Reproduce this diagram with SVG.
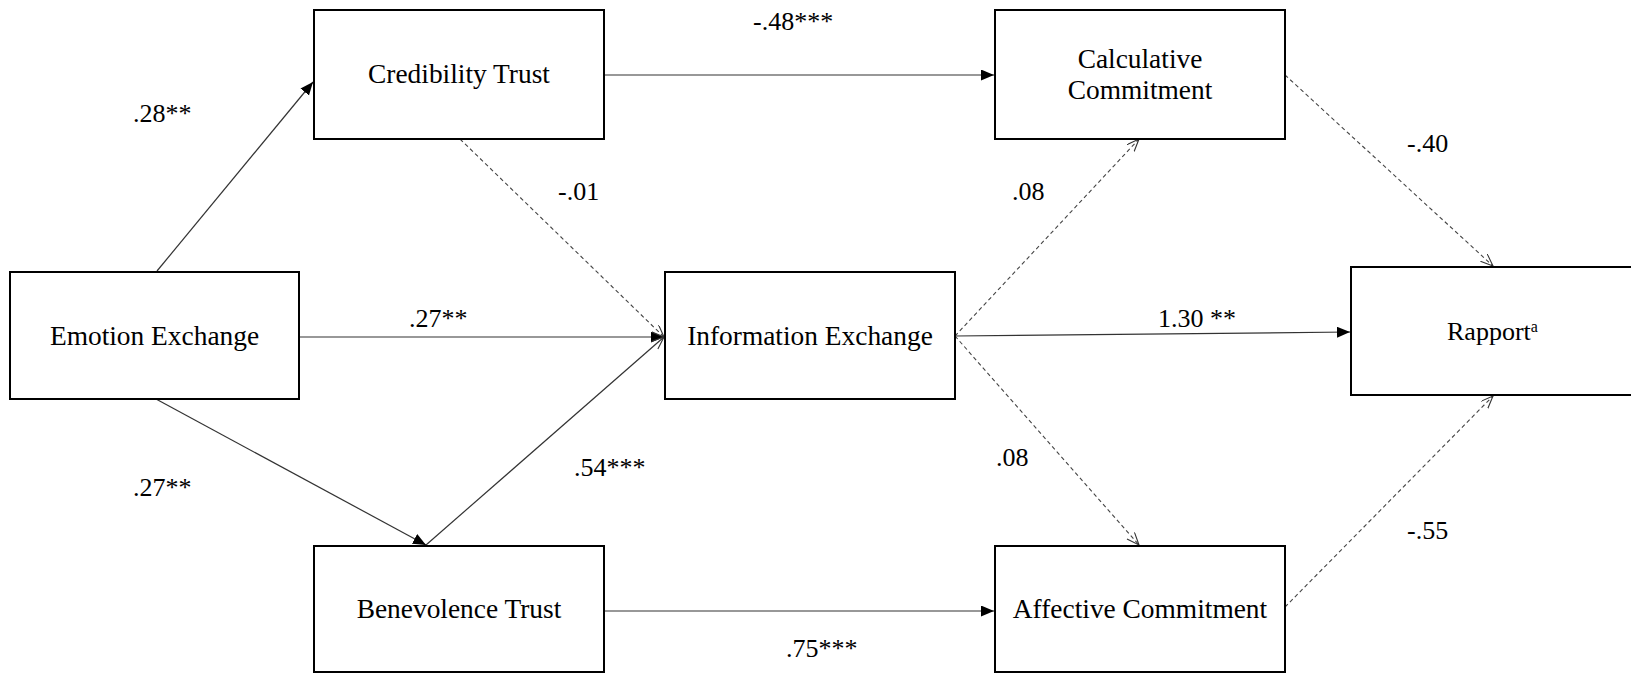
<svg xmlns="http://www.w3.org/2000/svg" width="1631" height="676" viewBox="0 0 1631 676">
<style>
.box{fill:#fff;stroke:#000;stroke-width:2}
.t{font-family:"Liberation Serif","Times New Roman",serif;font-size:26px;fill:#000}
.nt{font-family:"Liberation Serif","Times New Roman",serif;font-size:27.4px;fill:#000;text-anchor:middle}
.solid{stroke:#333;stroke-width:1.2;fill:none}
.dash{stroke:#444;stroke-width:1.1;fill:none;stroke-dasharray:4 3}
</style>
<defs>
<marker id="fill" markerUnits="userSpaceOnUse" markerWidth="14" markerHeight="12" refX="13" refY="5.5" orient="auto">
<path d="M0,0 L13,5.5 L0,11 z" fill="#000"/>
</marker>
<marker id="open" markerUnits="userSpaceOnUse" markerWidth="14" markerHeight="12" refX="12.5" refY="5" orient="auto">
<path d="M0,0 L12.5,5 L0,10" fill="none" stroke="#333" stroke-width="1.1"/>
</marker>
</defs>
<rect width="1631" height="676" fill="#fff"/>
<g id="connectors">
<line class="solid" x1="157" y1="271" x2="313" y2="82" marker-end="url(#fill)"/>
<line class="solid" x1="299" y1="337" x2="664" y2="337" marker-end="url(#fill)"/>
<line class="solid" x1="156" y1="399" x2="426" y2="545" marker-end="url(#fill)"/>
<line class="solid" x1="426" y1="545" x2="664" y2="337" marker-end="url(#open)"/>
<line class="dash" x1="460" y1="139" x2="664" y2="337" marker-end="url(#open)"/>
<line class="solid" x1="604" y1="75" x2="994" y2="75" marker-end="url(#fill)"/>
<line class="dash" x1="955" y1="336" x2="1139" y2="139" marker-end="url(#open)"/>
<line class="solid" x1="955" y1="336" x2="1350" y2="332" marker-end="url(#fill)"/>
<line class="dash" x1="955" y1="336" x2="1139" y2="545" marker-end="url(#open)"/>
<line class="dash" x1="1285" y1="75" x2="1493" y2="266" marker-end="url(#open)"/>
<line class="dash" x1="1285" y1="607" x2="1493" y2="396" marker-end="url(#open)"/>
<line class="solid" x1="604" y1="611" x2="994" y2="611" marker-end="url(#fill)"/>
</g>
<g id="labels">
<text class="t" x="133" y="122">.28**</text>
<text class="t" x="753" y="30">-.48***</text>
<text class="t" x="558" y="200">-.01</text>
<text class="t" x="1012" y="200">.08</text>
<text class="t" x="1407" y="152">-.40</text>
<text class="t" x="409" y="327">.27**</text>
<text class="t" x="1158" y="327">1.30 **</text>
<text class="t" x="133" y="496">.27**</text>
<text class="t" x="574" y="476">.54***</text>
<text class="t" x="996" y="466">.08</text>
<text class="t" x="1407" y="539">-.55</text>
<text class="t" x="786" y="657">.75***</text>
</g>
<g id="credibility-trust">
<rect class="box" x="314" y="10" width="290" height="129"/>
<text class="nt" x="459" y="83">Credibility Trust</text>
</g>
<g id="calculative-commitment">
<rect class="box" x="995" y="10" width="290" height="129"/>
<text class="nt" x="1140" y="68">Calculative</text>
<text class="nt" x="1140" y="99">Commitment</text>
</g>
<g id="emotion-exchange">
<rect class="box" x="10" y="272" width="289" height="127"/>
<text class="nt" x="154.5" y="345">Emotion Exchange</text>
</g>
<g id="information-exchange">
<rect class="box" x="665" y="272" width="290" height="127"/>
<text class="nt" x="810" y="345">Information Exchange</text>
</g>
<g id="rapport">
<rect class="box" x="1351" y="267" width="290" height="128"/>
<text class="t" x="1447" y="340">Rapport<tspan font-size="16" dy="-8">a</tspan></text>
</g>
<g id="benevolence-trust">
<rect class="box" x="314" y="546" width="290" height="126"/>
<text class="nt" x="459" y="618">Benevolence Trust</text>
</g>
<g id="affective-commitment">
<rect class="box" x="995" y="546" width="290" height="126"/>
<text class="nt" x="1140" y="618">Affective Commitment</text>
</g>
</svg>
